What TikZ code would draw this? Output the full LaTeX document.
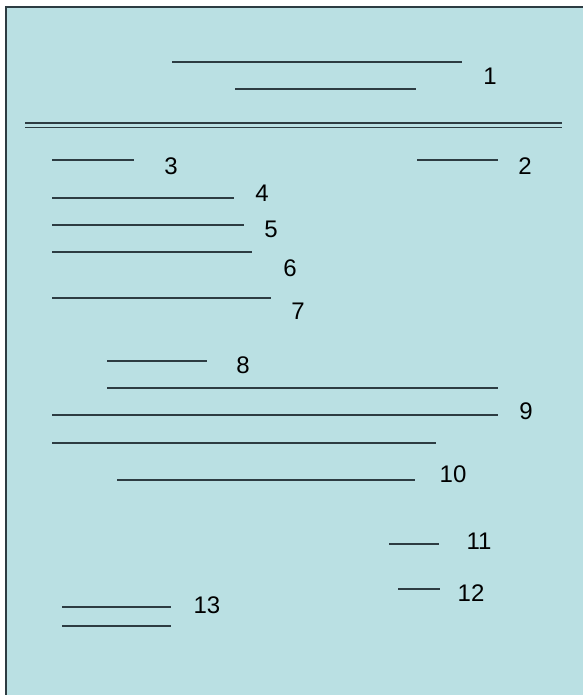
\documentclass[tikz,border=0pt]{standalone}
\usepackage{fontspec}
\setmainfont{Liberation Sans}
\definecolor{bgblue}{RGB}{186,224,227}
\definecolor{lnc}{RGB}{45,60,66}
\begin{document}
\begin{tikzpicture}[x=1pt,y=-1pt,
  rule/.style={draw=lnc,line width=1.3pt},
  num/.style={font=\fontsize{24}{28}\selectfont,text=black,inner sep=0pt,anchor=center}]
\useasboundingbox (0,0) rectangle (582,695);
\fill[white] (0,0) rectangle (582,695);
\fill[bgblue] (6,7) rectangle (590,705);
\draw[lnc,line width=1.6pt] (6,705) -- (6,7) -- (590,7);
% group 1
\draw[rule] (172,62) -- (462,62);
\draw[rule] (235,89) -- (416,89);
\node[num] (n1) at (490,76) {1};
% double separator
\draw[rule,line width=1.5pt] (25,123) -- (562,123);
\draw[rule,line width=1.5pt] (25,127.5) -- (562,127.5);
% 2 and 3
\draw[rule] (52,160) -- (134,160);
\node[num] (n3) at (171,166) {3};
\draw[rule] (417,160) -- (498,160);
\node[num] (n2) at (525,166) {2};
% 4-7
\draw[rule] (52,198) -- (234,198);
\node[num] (n4) at (262,193) {4};
\draw[rule] (52,225) -- (244,225);
\node[num] (n5) at (271,229) {5};
\draw[rule] (52,252) -- (252,252);
\node[num] (n6) at (290,268) {6};
\draw[rule] (52,298) -- (271,298);
\node[num] (n7) at (298,311) {7};
% 8-10
\draw[rule] (107,361) -- (207,361);
\node[num] (n8) at (243,365) {8};
\draw[rule] (107,388) -- (498,388);
\draw[rule] (52,415) -- (498,415);
\node[num] (n9) at (526,411) {9};
\draw[rule] (52,443) -- (436,443);
\draw[rule] (117,480) -- (415,480);
\node[num] (n10) at (453,474) {10};
% 11-13
\draw[rule] (389,544) -- (439,544);
\node[num] (n11) at (479,541) {11};
\draw[rule] (398,589) -- (440,589);
\node[num] (n12) at (471,593) {12};
\draw[rule] (62,607) -- (171,607);
\node[num] (n13) at (207,605) {13};
\draw[rule] (62,626) -- (171,626);
\end{tikzpicture}
\end{document}
